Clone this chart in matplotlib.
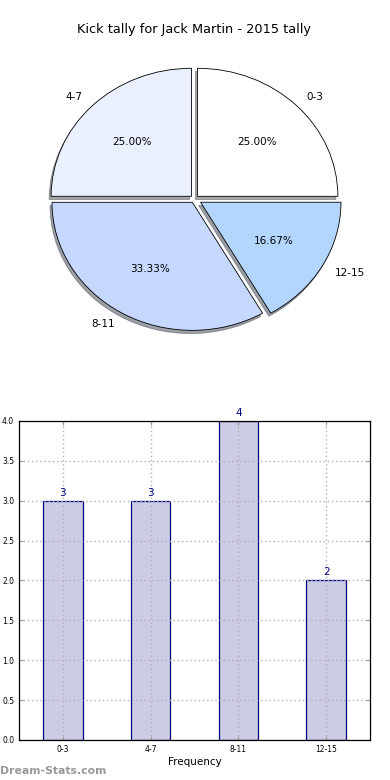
import numpy as np
import matplotlib
matplotlib.use("Agg")
import matplotlib.pyplot as plt

# kick tally data
categories = ["0-3", "4-7", "8-11", "12-15"]
counts = [3, 3, 4, 2]
pie_colors = ["#ffffff", "#eaf0ff", "#c6d8ff", "#b3d6ff"]
explode = [0.03, 0.03, 0.03, 0.05]
yticks = [0.0, 0.5, 1.0, 1.5, 2.0, 2.5, 3.0, 3.5, 4.0]

fig = plt.figure(figsize=(3.9, 7.8), dpi=100)
ax_pie = fig.add_axes([0.0487, 0.5397, 0.9, 0.4103])
ax_bar = fig.add_axes([0.0487, 0.0513, 0.9, 0.409])

# pie of the tally
wedges, texts, autotexts = ax_pie.pie(counts,
                                      labels=categories,
                                      colors=pie_colors,
                                      explode=explode,
                                      autopct="%.2f%%",
                                      shadow={"ox": -0.01, "oy": -0.018,
                                              "shade": 0.7},
                                      startangle=0,
                                      wedgeprops={"edgecolor": "black",
                                                  "linewidth": 0.6},
                                      textprops={"fontsize": 7.5})
ax_pie.set_aspect("auto")
ax_pie.set_xlim(-1.25, 1.25)
ax_pie.set_ylim(-1.25, 1.25)
ax_pie.set_title("Kick tally for Jack Martin - 2015 tally", fontsize=9.3, pad=4)

# bar chart of the same counts
x = np.arange(len(categories))
ax_bar.bar(x, counts, width=0.45, color="#cccce6",
           edgecolor="#000080", linewidth=0.9)
for xi, c in zip(x, counts):
    ax_bar.text(xi, c + 0.04, str(c), ha="center", va="bottom",
                color="#000080", fontsize=7.5, clip_on=False)
ax_bar.set_xlim(-0.5, 3.5)
ax_bar.set_ylim(0, 4)
ax_bar.set_xticks(x)
ax_bar.set_xticklabels(categories)
ax_bar.set_yticks(yticks)
ax_bar.set_yticklabels(["%.1f" % v for v in yticks])
ax_bar.tick_params(labelsize=5.5, direction="in", top=True, right=True,
                   length=3, color="#999999")
ax_bar.set_axisbelow(False)
ax_bar.grid(True, linestyle=(0, (1, 2)), color="#b0b0b0", linewidth=1.0)
ax_bar.set_xlabel("Frequency", fontsize=7.5, labelpad=2)
for sp in ax_bar.spines.values():
    sp.set_linewidth(0.9)
    sp.set_zorder(5)

fig.text(0.0, 0.005, "Dream-Stats.com", fontsize=7.8, color="#999999",
         fontweight="bold", ha="left", va="bottom")

fig.savefig("out.png", dpi=100)
